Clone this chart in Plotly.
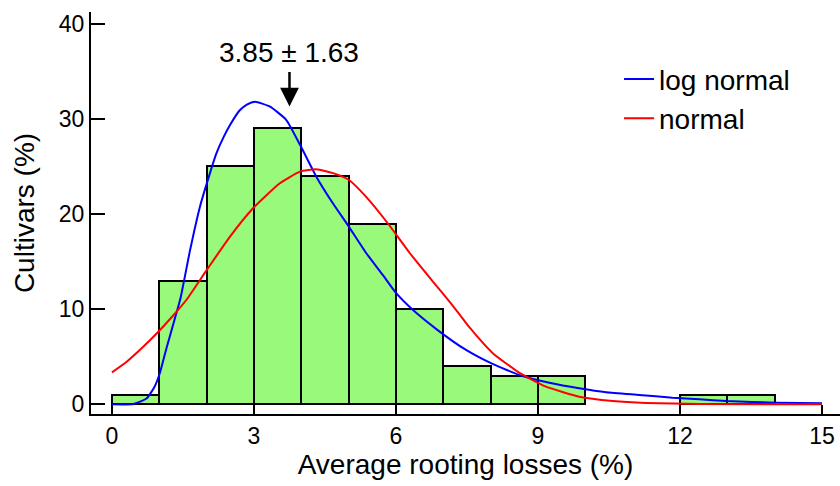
import plotly.graph_objects as go

# Histogram bins (left edge, width 1) and percentage of cultivars
bin_left = [0, 1, 2, 3, 4, 5, 6, 7, 8, 9, 10, 11, 12, 13, 14]
cultivars_pct = [1, 13, 25, 29, 24, 19, 10, 4, 3, 3, 0, 0, 1, 1, 0]

# Fitted log-normal curve
lognorm_x = [0, 0.45, 0.73, 0.9, 1.01, 1.16, 1.32, 1.45, 1.65, 1.86, 2.07, 2.2, 2.35, 2.5, 2.7,
             2.85, 3.02, 3.33, 3.68, 3.97, 4.32, 4.67, 5.0, 5.37, 5.72, 6.0, 6.36, 6.88,
             7.48, 8.04, 8.67, 9.24, 9.87, 10.44, 11.14, 11.84, 12.41, 12.98, 14.04, 15.0]
lognorm_y = [0, 0.03, 0.6, 1.85, 3.26, 6.05, 8.86, 11.2, 16.2, 20.8, 24.3, 26.3, 28.0, 29.4, 30.9,
             31.5, 31.8, 31.3, 29.9, 27.3, 23.9, 21.1, 18.7, 15.9, 13.6, 11.7, 9.9, 7.8,
             5.71, 4.24, 2.97, 2.27, 1.68, 1.26, 0.98, 0.69, 0.53, 0.35, 0.17, 0.1]

# Fitted normal curve
normal_x = [0, 0.31, 0.66, 0.98, 1.27, 1.57, 2.0, 2.49, 2.98, 3.54, 3.97, 4.32, 4.67,
            5.0, 5.37, 5.83, 6.29, 6.78, 7.13, 7.35, 7.55, 8.04, 8.61, 9.17, 9.87, 10.58,
            11.28, 12.41, 15.0]
normal_y = [3.36, 4.48, 6.05, 7.63, 9.2, 10.96, 14.1, 17.6, 20.6, 23.2, 24.45, 24.7, 24.3,
            23.6, 21.8, 19.0, 15.9, 12.9, 10.8, 9.4, 8.1, 5.4, 3.3, 1.85, 0.8, 0.35,
            0.14, 0.03, 0.0]

x_ticks = [0, 3, 6, 9, 12, 15]
y_ticks = [0, 10, 20, 30, 40]

mean_text = "3.85 ± 1.63"
mean_arrow_x = 3.75

FONT = "Liberation Sans, Arial, sans-serif"

bar_x = [b + 0.5 for b, v in zip(bin_left, cultivars_pct) if v > 0]
bar_y = [v for v in cultivars_pct if v > 0]

fig = go.Figure()
fig.add_trace(go.Bar(
    x=bar_x, y=bar_y, width=1.0,
    marker=dict(color="#99F97A", line=dict(color="black", width=2)),
    showlegend=False, name="cultivars"))
fig.add_trace(go.Scatter(
    x=lognorm_x, y=lognorm_y, mode="lines", name="log normal",
    line=dict(color="#0000FF", width=2, shape="spline", smoothing=0.5)))
fig.add_trace(go.Scatter(
    x=normal_x, y=normal_y, mode="lines", name="normal",
    line=dict(color="#FF0000", width=2, shape="spline", smoothing=0.5)))

fig.add_annotation(x=mean_arrow_x, y=36.95, xref="x", yref="y", text=mean_text,
                   showarrow=False, font=dict(family=FONT, size=28, color="black"),
                   xanchor="center", yanchor="middle")
fig.add_annotation(x=mean_arrow_x, y=31.3, xref="x", yref="y", text="",
                   showarrow=True, ax=0, ay=-36, arrowhead=2, arrowsize=1.5,
                   arrowwidth=2.5, arrowcolor="black")

fig.update_layout(
    width=840, height=486,
    margin=dict(l=91, r=0, t=12, b=72),
    plot_bgcolor="white", paper_bgcolor="white",
    font=dict(family=FONT, color="black"),
    bargap=0, barmode="overlay",
    legend=dict(x=0.705, y=0.895, xanchor="left", yanchor="top",
                font=dict(family=FONT, size=28), bgcolor="rgba(0,0,0,0)",
                tracegroupgap=0),
    xaxis=dict(range=[-0.443, 15.38], tickvals=x_ticks, ticks="inside", ticklen=9,
               tickwidth=2, tickcolor="black", showline=True, linewidth=2,
               linecolor="black", showgrid=False, zeroline=False,
               tickfont=dict(family=FONT, size=23),
               title=dict(text="Average rooting losses (%)",
                          font=dict(family=FONT, size=28), standoff=6)),
    yaxis=dict(range=[-1.02, 41.23], tickvals=y_ticks, ticks="inside", ticklen=14,
               tickwidth=2, tickcolor="black", showline=True, linewidth=2,
               linecolor="black", showgrid=False, zeroline=False,
               tickfont=dict(family=FONT, size=23),
               title=dict(text="Cultivars (%)",
                          font=dict(family=FONT, size=28), standoff=16)),
)

fig.write_html("out.html")
